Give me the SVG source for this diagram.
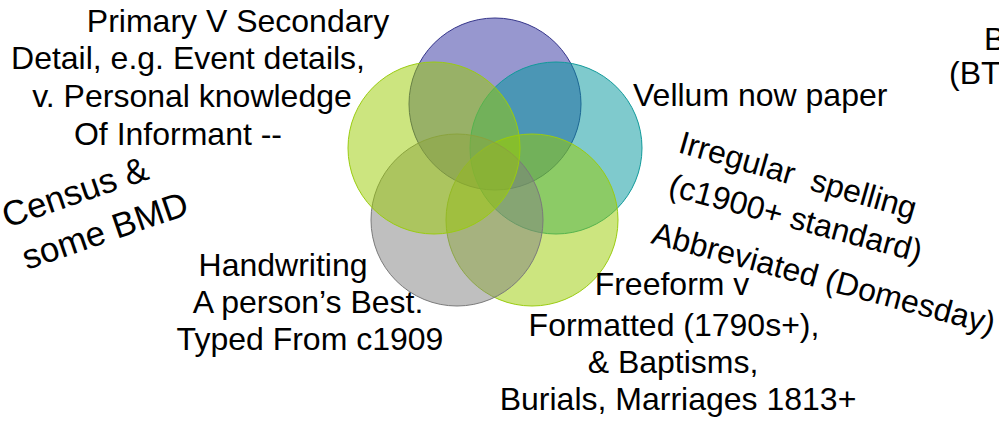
<svg xmlns="http://www.w3.org/2000/svg" width="999" height="425" viewBox="0 0 999 425">
<style>
text { font-family: "Liberation Sans", Arial, sans-serif; font-size: 32px; fill: #000; }
.c { text-anchor: middle; }
.big { font-size: 35px; }
circle { fill-opacity: 0.5; stroke-width: 1; }
</style>
<rect width="999" height="425" fill="#fff"/>
<g id="circle-top"><circle cx="495" cy="104" r="86" fill="#30309f" stroke="#35358a"/></g>
<g id="circle-right"><circle cx="556" cy="148" r="86" fill="#00969b" stroke="#109a9a"/></g>
<g id="circle-bottom-right"><circle cx="532" cy="220" r="86" fill="#9acc00" stroke="#9acc10"/></g>
<g id="circle-bottom-left"><circle cx="457" cy="220" r="86" fill="#808080" stroke="#7a7a7a"/></g>
<g id="circle-left"><circle cx="434" cy="148" r="86" fill="#9acc00" stroke="#9acc10"/></g>
<g id="connectors"/>
<g id="label-primary">
<text class="c" x="238" y="32">Primary V Secondary</text>
<text class="c" x="188" y="69">Detail, e.g. Event details,</text>
<text class="c" x="192" y="107">v. Personal knowledge</text>
<text class="c" x="178" y="145">Of Informant --</text>
</g>
<g id="label-census">
<text class="big" transform="translate(7,228) rotate(-19)">Census &amp;</text>
<text class="big" transform="translate(27,270) rotate(-19)">some BMD</text>
</g>
<g id="label-vellum"><text x="633" y="106">Vellum now paper</text></g>
<g id="label-spelling">
<text transform="translate(677,152) rotate(16)" xml:space="preserve">Irregular  spelling</text>
<text transform="translate(667,195) rotate(15)">(c1900+ standard)</text>
</g>
<g id="label-abbrev"><text transform="translate(650,243) rotate(15)">Abbreviated (Domesday)</text></g>
<g id="label-handwriting">
<text class="c" x="283" y="276">Handwriting</text>
<text class="c" x="308" y="313">A person’s Best.</text>
<text class="c" x="310" y="350">Typed From c1909</text>
</g>
<g id="label-freeform">
<text class="c" x="672" y="295">Freeform v</text>
<text class="c" x="674" y="336">Formatted (1790s+),</text>
<text class="c" x="673" y="373">&amp; Baptisms,</text>
<text class="c" x="678" y="410">Burials, Marriages 1813+</text>
</g>
<g id="label-bt">
<text x="984" y="50">B</text>
<text x="949" y="84">(BT</text>
</g>
</svg>
